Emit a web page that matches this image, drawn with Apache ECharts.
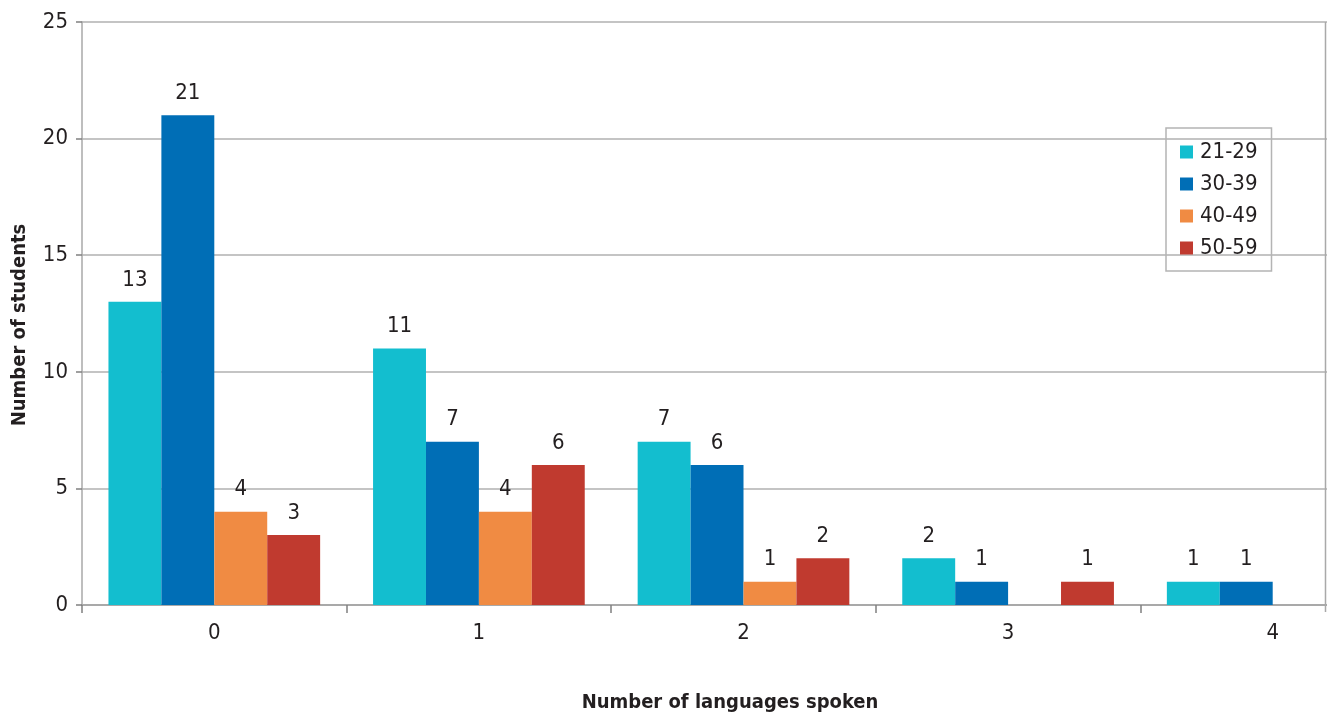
<!DOCTYPE html>
<html>
<head>
<meta charset="utf-8">
<script src="https://cdn.jsdelivr.net/npm/echarts@6/dist/echarts.min.js"></script>
<style>
html,body{margin:0;padding:0;background:#fff;overflow:hidden;width:1327px;height:720px;}
#c{width:1420px;height:720px;}
</style>
</head>
<body>
<div id="c"></div>
<script>
const categories = ['0', '1', '2', '3', '4'];
const seriesNames = ['21-29', '30-39', '40-49', '50-59'];
const age21_29 = [13, 11, 7, 2, 1];
const age30_39 = [21, 7, 6, 1, 1];
const age40_49 = [4, 4, 1, 0, 0];
const age50_59 = [3, 6, 2, 1, 0];
const yTicks = [0, 5, 10, 15, 20, 25];
const colors = ['#13BECF', '#006EB6', '#F08B43', '#C03A2F'];

const FONT = '"DejaVu Sans Condensed", "Open Sans", sans-serif';
const chart = echarts.init(document.getElementById('c'), null, {renderer: 'canvas'});

const values = [age21_29, age30_39, age40_49, age50_59];
const series = seriesNames.map((n, i) => ({
  name: n,
  type: 'bar',
  data: values[i],
  barGap: '0%',
  barCategoryGap: '20%',
  itemStyle: {color: colors[i]},
  label: {
    show: true,
    position: 'top',
    distance: 11,
    color: '#231f20',
    fontFamily: FONT,
    fontSize: 22,
    formatter: p => (p.value === 0 ? '' : p.value)
  }
}));

chart.setOption({
  animation: false,
  textStyle: {fontFamily: FONT},
  color: colors,
  grid: {left: 82, top: 22, width: 1323, height: 583, containLabel: false},
  legend: {
    orient: 'vertical',
    left: 1166,
    top: 128,
    data: seriesNames,
    icon: 'rect',
    itemWidth: 13,
    itemHeight: 13,
    itemGap: 10,
    padding: [13, 14, 12, 14],
    borderColor: '#b4b4b4',
    borderWidth: 1.5,
    borderRadius: 0,
    textStyle: {fontFamily: FONT, fontSize: 22, color: '#231f20', padding: [0, 0, 0, 2]}
  },
  xAxis: {
    type: 'category',
    data: categories,
    name: 'Number of languages spoken',
    nameLocation: 'middle',
    nameGap: 88,
    nameTextStyle: {fontFamily: FONT, fontSize: 20, fontWeight: 'bold', color: '#231f20', padding: [0, 27, 0, 0]},
    axisLine: {lineStyle: {color: '#a9a9a9', width: 2}},
    axisTick: {show: true, length: 8, lineStyle: {color: '#808080', width: 1.5}},
    axisLabel: {fontFamily: FONT, fontSize: 22, color: '#231f20', margin: 17},
    splitLine: {show: false}
  },
  yAxis: {
    type: 'value',
    min: 0,
    max: 25,
    interval: 5,
    name: 'Number of students',
    nameLocation: 'middle',
    nameGap: 52,
    nameTextStyle: {fontFamily: FONT, fontSize: 20, fontWeight: 'bold', color: '#231f20', padding: [0, 23, 0, 0]},
    axisLine: {show: true, lineStyle: {color: '#a9a9a9', width: 1.5}},
    axisTick: {show: true, length: 6, lineStyle: {color: '#808080', width: 1.5}},
    axisLabel: {fontFamily: FONT, fontSize: 22, color: '#231f20', margin: 14,
      formatter: v => (yTicks.indexOf(v) >= 0 ? String(v) : '')},
    splitLine: {show: true, lineStyle: {color: '#c4c4c4', width: 2}}
  },
  graphic: [{
    type: 'line',
    shape: {x1: 1325.5, y1: 22, x2: 1325.5, y2: 612},
    style: {stroke: '#a9a9a9', lineWidth: 1.5},
    z: 10
  }],
  series: series
});
</script>
</body>
</html>
